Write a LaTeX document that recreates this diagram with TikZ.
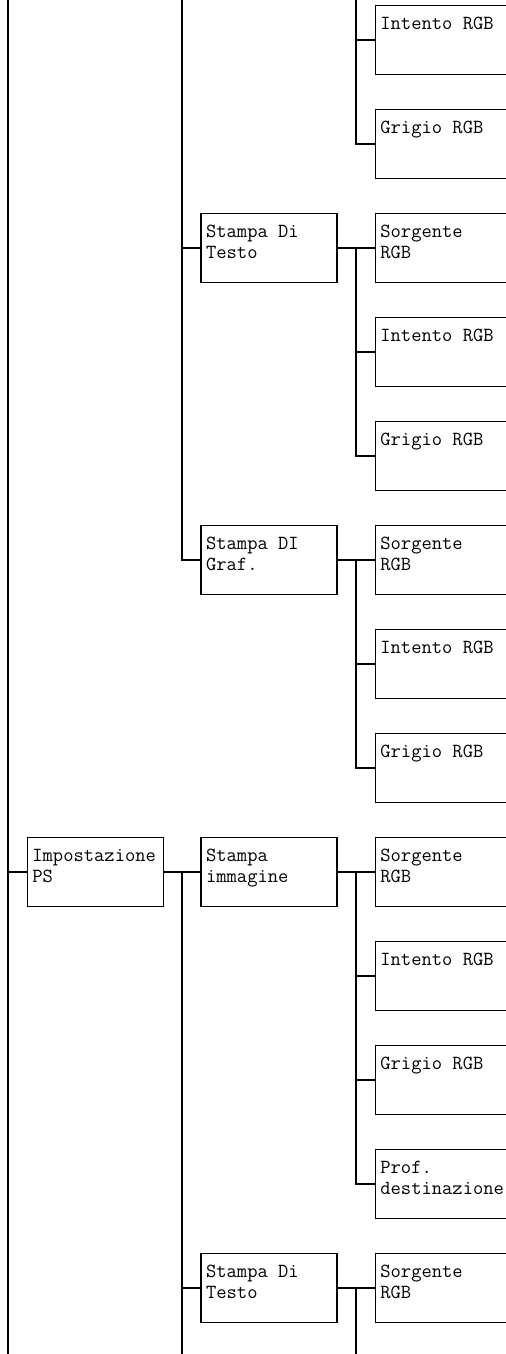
\documentclass[tikz,border=0pt]{standalone}
\usepackage{fontspec}
\usetikzlibrary{calc}
\tikzset{
  menu_box/.style={rectangle, draw=black, line width=1.15pt, inner sep=0pt, outer sep=0pt, minimum width=102pt, minimum height=51.75pt, anchor=north west},
  menu_text/.style={font=\ttfamily\fontsize{15}{16}\selectfont, align=left, anchor=north west, inner sep=0pt, xshift=3.6pt, yshift=-6.65pt},
  connect/.style={-, line width=1.15pt, black}
}

\begin{document}
\begin{tikzpicture}[x=0.75pt, y=-0.75pt]

  \useasboundingbox (0,0) rectangle (506,1354);
  \clip (0,0) rectangle (506,1354);

  % trunk ends outside the page
  \coordinate (top1) at (8.2,-10);
  \coordinate (bot1) at (8.2,1364);
  \coordinate (top2) at (182.1,-10);
  \coordinate (bot2) at (182.1,1364);
  \coordinate (top3) at (356.2,-10);
  \coordinate (bot3) at (356.2,1364);

  % Impostazione PS
  \node[menu_box, label={[menu_text]north west:{\strut Impostazione\\PS}}] (ps) at (27.3,837.5) {};

  % second level
  \node[menu_box, label={[menu_text]north west:{\strut Stampa Di\\Testo}}] (testo_a) at (201,213.5) {};
  \node[menu_box, label={[menu_text]north west:{\strut Stampa DI\\Graf.}}] (graf) at (201,525.5) {};
  \node[menu_box, label={[menu_text]north west:{\strut Stampa\\immagine}}] (immagine) at (201,837.5) {};
  \node[menu_box, label={[menu_text]north west:{\strut Stampa Di\\Testo}}] (testo_b) at (201,1253.5) {};

  % third level
  \node[menu_box, label={[menu_text]north west:{\strut Intento RGB}}] (a_int) at (375.3,5.5) {};
  \node[menu_box, label={[menu_text]north west:{\strut Grigio RGB}}] (a_gri) at (375.3,109.5) {};

  \node[menu_box, label={[menu_text]north west:{\strut Sorgente\\RGB}}] (testo_a_src) at (375.3,213.5) {};
  \node[menu_box, label={[menu_text]north west:{\strut Intento RGB}}] (testo_a_int) at (375.3,317.5) {};
  \node[menu_box, label={[menu_text]north west:{\strut Grigio RGB}}] (testo_a_gri) at (375.3,421.5) {};

  \node[menu_box, label={[menu_text]north west:{\strut Sorgente\\RGB}}] (graf_src) at (375.3,525.5) {};
  \node[menu_box, label={[menu_text]north west:{\strut Intento RGB}}] (graf_int) at (375.3,629.5) {};
  \node[menu_box, label={[menu_text]north west:{\strut Grigio RGB}}] (graf_gri) at (375.3,733.5) {};

  \node[menu_box, label={[menu_text]north west:{\strut Sorgente\\RGB}}] (immagine_src) at (375.3,837.5) {};
  \node[menu_box, label={[menu_text]north west:{\strut Intento RGB}}] (immagine_int) at (375.3,941.5) {};
  \node[menu_box, label={[menu_text]north west:{\strut Grigio RGB}}] (immagine_gri) at (375.3,1045.5) {};
  \node[menu_box, label={[menu_text]north west:{\strut Prof.\\destinazione}}] (immagine_prof) at (375.3,1149.5) {};

  \node[menu_box, label={[menu_text]north west:{\strut Sorgente\\RGB}}] (testo_b_src) at (375.3,1253.5) {};

  % first trunk
  \draw[connect] (top1) -- (bot1);
  \draw[connect] (ps.west) -| (top1);

  % second trunk
  \foreach \c in {testo_a, graf} {
    \draw[connect] (top2) |- (\c.west);
  }
  \draw[connect] (ps.east) -- (immagine.west);
  \draw[connect] (immagine.west) -| (bot2);
  \draw[connect] (bot2) |- (testo_b.west);

  % third trunk
  \foreach \c in {a_int, a_gri} {
    \draw[connect] (top3) |- (\c.west);
  }
  \foreach \p in {testo_a, graf, immagine, testo_b} {
    \draw[connect] (\p.east) -- (\p_src.west);
  }
  \foreach \p/\c in {testo_a/testo_a_int, testo_a/testo_a_gri, graf/graf_int, graf/graf_gri,
                     immagine/immagine_int, immagine/immagine_gri, immagine/immagine_prof} {
    \draw[connect] ($(\p.east)!.5!(\p_src.west)$) |- (\c.west);
  }
  \draw[connect] (testo_b_src.west) -| (bot3);

\end{tikzpicture}
\end{document}
